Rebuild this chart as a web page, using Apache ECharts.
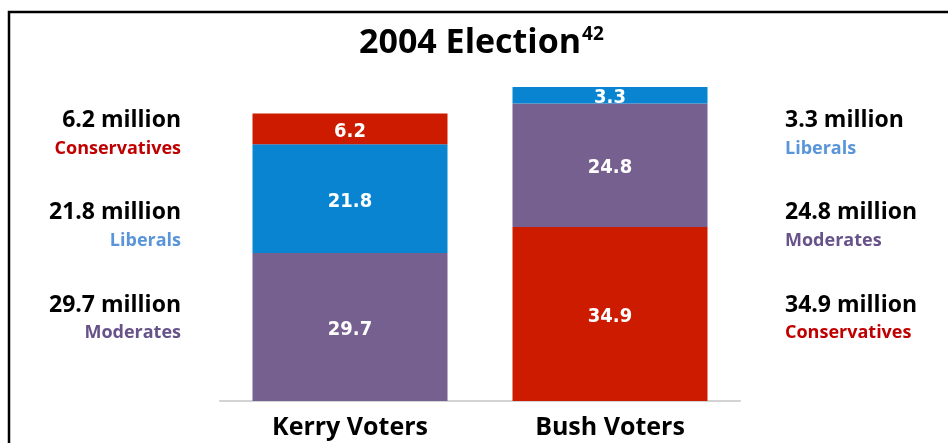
<!DOCTYPE html>
<html>
<head>
<meta charset="utf-8">
<title>2004 Election</title>
<script src="https://cdn.jsdelivr.net/npm/echarts@6/dist/echarts.min.js"></script>
<style>
  html, body { margin: 0; padding: 0; background: #ffffff; }
  #chart { width: 948px; height: 443px; }
</style>
</head>
<body>
<div id="chart"></div>
<script>
// Voters by ideology, in millions
const categories = ['Kerry Voters', 'Bush Voters'];
const groups = ['Conservatives', 'Liberals', 'Moderates'];
const kerryVoters = [6.2, 21.8, 29.7];   // per group, same order as `groups`
const bushVoters = [34.9, 3.3, 24.8];
// stacking order of each bar, bottom to top (indices into `groups`)
const kerryStack = [2, 1, 0];
const bushStack = [0, 2, 1];
const titleText = '2004 Election';
const titleNote = '42';

const barColors = ['#cd1b00', '#0884d0', '#76608f'];
const textColors = ['#c00000', '#5a94d9', '#67528a'];
const FONT = '"Open Sans", "Noto Sans", "DejaVu Sans", sans-serif';
const NARROW = '"Liberation Sans Narrow", "DejaVu Sans Condensed", "Roboto", sans-serif';

const perBar = [
  { values: kerryVoters, stack: kerryStack },
  { values: bushVoters, stack: bushStack }
];

// one series per stacking level; each bar picks its own group for that level
const series = [0, 1, 2].map(level => ({
  type: 'bar',
  stack: 'voters',
  barWidth: 195,
  data: perBar.map(bar => {
    const g = bar.stack[level];
    return { value: bar.values[g], name: groups[g], itemStyle: { color: barColors[g] } };
  }),
  label: {
    show: true,
    position: 'inside',
    color: '#ffffff',
    fontFamily: NARROW,
    fontWeight: 'bold',
    fontSize: 20,
    offset: [0, 3],
    formatter: p => p.value.toFixed(1)
  },
  emphasis: { disabled: true }
}));

// side annotations: each bar's groups listed top to bottom
const rowMillion = [120, 212, 305];
const rowGroup = [149, 241, 333];
function sideTexts(bar, x, align) {
  const order = bar.stack.slice().reverse();
  const out = [];
  order.forEach((g, i) => {
    out.push({
      type: 'text', silent: true,
      style: {
        x: x, y: rowMillion[i], text: bar.values[g].toFixed(1) + ' million',
        align: align, verticalAlign: 'middle',
        fill: '#000000', font: 'bold 23px ' + FONT
      }
    });
    out.push({
      type: 'text', silent: true,
      style: {
        x: x, y: rowGroup[i], text: groups[g],
        align: align, verticalAlign: 'middle',
        fill: textColors[g], font: 'bold 18px ' + FONT
      }
    });
  });
  return out;
}

const chart = echarts.init(document.getElementById('chart'), null, { renderer: 'canvas' });
chart.setOption({
  animation: false,
  backgroundColor: '#ffffff',
  title: {
    text: '{t|' + titleText + '}{s|' + titleNote + '}',
    left: 359,
    top: 23,
    padding: 0,
    textStyle: {
      rich: {
        t: { fontFamily: FONT, fontWeight: 'bold', fontSize: 34, lineHeight: 40, color: '#000000' },
        s: { fontFamily: FONT, fontWeight: 'bold', fontSize: 19, lineHeight: 22, verticalAlign: 'top', color: '#000000', padding: [2, 0, 0, 1] }
      }
    }
  },
  grid: { left: 220, right: 208, top: 77, bottom: 42, containLabel: false },
  xAxis: {
    type: 'category',
    data: categories,
    axisLine: { show: true, lineStyle: { color: '#d3d3d3', width: 2 } },
    axisTick: { show: false },
    axisLabel: {
      color: '#000000', fontFamily: FONT, fontWeight: 'bold', fontSize: 25, margin: 14
    }
  },
  yAxis: {
    type: 'value', min: 0, max: 65, show: false,
    splitLine: { show: false }
  },
  series: series,
  graphic: [
    {
      type: 'rect', silent: true,
      shape: { x: 9, y: 12, width: 2000, height: 1000 },
      style: { fill: 'none', stroke: '#000000', lineWidth: 2.5 }
    }
  ].concat(sideTexts(perBar[0], 181, 'right'), sideTexts(perBar[1], 785, 'left'))
});
</script>
</body>
</html>
